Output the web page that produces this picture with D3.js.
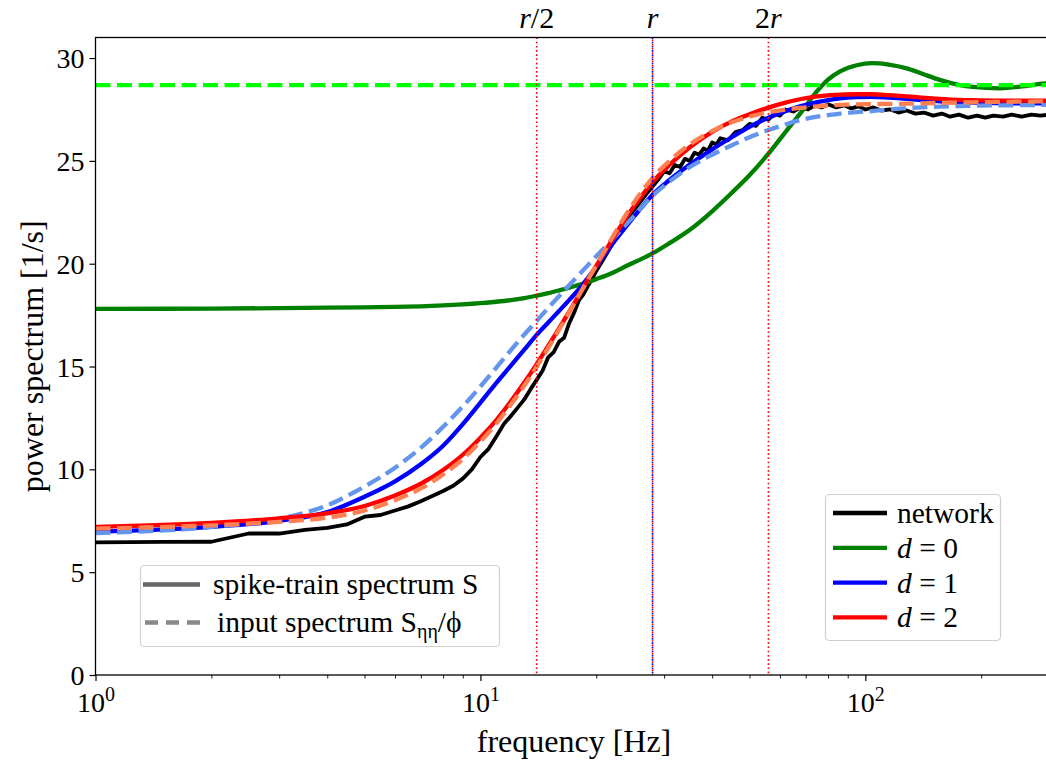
<!DOCTYPE html>
<html>
<head>
<meta charset="utf-8">
<script src="https://cdn.jsdelivr.net/npm/d3@7"></script>
<style>
  html, body { margin: 0; padding: 0; background: #fff; }
  svg { display: block; }
  text { font-family: "Liberation Serif", "DejaVu Serif", serif; fill: #000; }
</style>
</head>
<body>
<svg id="chart" width="1046" height="763"></svg>
<script>
// ---- data: frequencies [Hz] and power spectra [1/s] ----
const networkFreq = [1, 1.5, 2, 2.5, 3, 3.5, 4, 4.5, 5, 5.5, 6, 6.5, 7, 7.5, 8, 8.5, 9, 9.5, 10, 10.5, 11, 11.5, 12, 12.5, 13, 13.5, 14, 14.5, 15, 15.5, 16, 16.5, 17, 17.5, 18, 18.5, 19, 19.5, 20, 21, 22, 23, 24, 25, 26, 27, 28, 29, 30, 31, 32, 33, 34, 35, 36, 37, 38, 39, 40, 41, 42, 44, 46, 48, 50, 52, 54, 56, 58, 60, 62, 65, 68, 71, 74, 77, 80, 84, 88, 92, 96, 100, 105, 110, 116, 122, 128, 135, 142, 150, 158, 166, 175, 185, 195, 205, 215, 228, 240, 255, 270, 285, 300];
const networkPower = [6.45, 6.47, 6.48, 6.88, 6.88, 7.06, 7.15, 7.32, 7.7, 7.78, 8.0, 8.2, 8.45, 8.7, 8.95, 9.2, 9.55, 10.0, 10.6, 11.0, 11.6, 12.2, 12.6, 13.0, 13.4, 13.9, 14.35, 14.8, 15.45, 15.7, 16.2, 16.4, 17.1, 17.6, 18.2, 18.5, 18.9, 19.25, 19.65, 20.3, 20.95, 21.55, 22.1, 22.6, 23.0, 23.4, 23.75, 24.1, 24.5, 24.4, 24.8, 24.7, 25.1, 25.0, 25.4, 25.3, 25.6, 25.5, 25.9, 25.8, 26.1, 26.0, 26.4, 26.5, 26.8, 26.7, 27.1, 27.0, 27.3, 27.2, 27.5, 27.4, 27.6, 27.5, 27.7, 27.6, 27.75, 27.6, 27.7, 27.55, 27.65, 27.5, 27.6, 27.45, 27.5, 27.35, 27.45, 27.3, 27.35, 27.2, 27.3, 27.15, 27.25, 27.1, 27.2, 27.1, 27.2, 27.15, 27.25, 27.15, 27.25, 27.2, 27.25];

const modelFreq = [1, 2, 3, 4, 5, 6, 7, 8, 9, 10, 11, 12, 13, 14, 15, 16, 17, 18, 19, 20, 22, 24, 26, 28, 31, 35, 40, 45, 50, 56, 62, 68, 75, 80, 86, 95, 104, 115, 128, 140, 156, 175, 190, 224, 255, 284, 300];

// spike-train spectra S for d = 0, 1, 2
const sD0 = [17.8, 17.82, 17.84, 17.86, 17.88, 17.9, 17.93, 17.97, 18.02, 18.08, 18.15, 18.23, 18.33, 18.45, 18.57, 18.7, 18.83, 18.97, 19.1, 19.25, 19.55, 19.9, 20.2, 20.5, 21.0, 21.65, 22.55, 23.45, 24.3, 25.35, 26.4, 27.35, 28.4, 28.95, 29.35, 29.65, 29.75, 29.68, 29.5, 29.25, 28.94, 28.7, 28.6, 28.53, 28.62, 28.74, 28.78];
const sD1 = [6.97, 7.2, 7.5, 7.92, 8.67, 9.42, 10.25, 11.15, 12.2, 13.25, 14.2, 15.05, 15.82, 16.54, 17.14, 17.7, 18.23, 18.75, 19.3, 19.85, 20.95, 21.85, 22.65, 23.35, 24.07, 24.82, 25.56, 26.15, 26.65, 27.1, 27.42, 27.66, 27.86, 27.96, 28.04, 28.1, 28.12, 28.08, 28.02, 27.96, 27.89, 27.85, 27.83, 27.81, 27.8, 27.8, 27.8];
const sD2 = [7.2, 7.4, 7.62, 7.86, 8.22, 8.73, 9.3, 9.97, 10.71, 11.54, 12.4, 13.31, 14.22, 15.12, 16.0, 16.85, 17.66, 18.45, 19.21, 19.9, 21.17, 22.29, 23.2, 23.97, 24.81, 25.66, 26.41, 26.92, 27.27, 27.59, 27.83, 28.01, 28.14, 28.19, 28.22, 28.24, 28.24, 28.2, 28.14, 28.08, 28.02, 27.97, 27.95, 27.93, 27.93, 27.93, 27.93];

// input spectra S_eta/phi for d = 1, 2 (d = 0 is flat)
const inD1 = [6.9, 7.2, 7.6, 8.25, 9.17, 10.08, 11.05, 12.07, 13.06, 14.03, 14.95, 15.8, 16.55, 17.22, 17.85, 18.42, 18.95, 19.45, 19.92, 20.36, 21.18, 21.95, 22.65, 23.3, 24.0, 24.7, 25.3, 25.76, 26.15, 26.5, 26.77, 26.99, 27.15, 27.22, 27.3, 27.37, 27.42, 27.5, 27.57, 27.6, 27.64, 27.67, 27.68, 27.7, 27.71, 27.72, 27.72];
const inD2 = [7.12, 7.28, 7.45, 7.65, 8.0, 8.5, 9.07, 9.75, 10.5, 11.35, 12.23, 13.15, 14.07, 14.99, 15.9, 16.78, 17.62, 18.43, 19.21, 19.93, 21.27, 22.45, 23.4, 24.17, 25.0, 25.8, 26.45, 26.88, 27.15, 27.37, 27.5, 27.58, 27.65, 27.7, 27.72, 27.75, 27.76, 27.77, 27.78, 27.8, 27.82, 27.84, 27.85, 27.87, 27.88, 27.89, 27.9];
const inD0Level = 28.68;

// characteristic frequencies, r in Hz
const rate = 28;
const markerLabels = ["r/2", "r", "2r"];
const markerFactors = [0.5, 1, 2];

const yTicks = [0, 5, 10, 15, 20, 25, 30];
const xMajorTicks = [1, 10, 100];
const xMinorTicks = [2, 3, 4, 5, 6, 7, 8, 9, 20, 30, 40, 50, 60, 70, 80, 90, 200, 300];

const legendModels = [
  { label: "network", d: null, color: "#000000" },
  { label: "0", d: 0, color: "#008000" },
  { label: "1", d: 1, color: "#0000ff" },
  { label: "2", d: 2, color: "#ff0000" }
];

// ---- layout ----
const svg = d3.select("#chart");
const plotL = 95.5, plotT = 37.5, plotB = 675, plotR = 1049;
const x = d3.scaleLog().domain([1, 300]).range([plotL, plotR]);
const y = d3.scaleLinear().domain([0, 31]).range([plotB, plotT]);

const FS_TICK = 28, FS_LEG = 29.5, FS_LAB = 32, FS_TOP = 30;

svg.append("defs").append("clipPath").attr("id", "plotclip")
  .append("rect").attr("x", plotL).attr("y", plotT)
  .attr("width", plotR - plotL).attr("height", plotB - plotT);

const plot = svg.append("g").attr("clip-path", "url(#plotclip)");

const zip = (fs, vs) => fs.map((f, i) => [f, vs[i]]);
const smooth = d3.line().x(d => x(d[0])).y(d => y(d[1])).curve(d3.curveMonotoneX);
const straight = d3.line().x(d => x(d[0])).y(d => y(d[1]));

const LW = 4.3;
const DASH = "15,6.5";

function path(data, gen, color, width, dash) {
  const p = plot.append("path").attr("d", gen(data))
    .attr("fill", "none").attr("stroke", color).attr("stroke-width", width)
    .attr("stroke-linejoin", "round");
  if (dash) p.attr("stroke-dasharray", dash);
  return p;
}

// network simulation
path(zip(networkFreq, networkPower), straight, "#000000", 3.8);
// d = 0
path(zip(modelFreq, sD0), smooth, "#008000", LW);
path([[1, inD0Level], [300, inD0Level]], straight, "#00ff00", LW, DASH);
// d = 1
path(zip(modelFreq, sD1), smooth, "#0000ff", LW);
path(zip(modelFreq, inD1), smooth, "#6495ed", LW, DASH);
// d = 2
path(zip(modelFreq, sD2), smooth, "#ff0000", LW);
path(zip(modelFreq, inD2), smooth, "#ff7f50", LW, DASH);

// characteristic frequency markers
markerFactors.forEach((k, i) => {
  const fx = x(rate * k);
  if (k === 1) {
    plot.append("line").attr("x1", fx).attr("x2", fx).attr("y1", plotT).attr("y2", plotB)
      .attr("stroke", "#0000ff").attr("stroke-width", 1.6).attr("stroke-dasharray", "1.6,2.6");
    plot.append("line").attr("x1", fx).attr("x2", fx).attr("y1", plotT).attr("y2", plotB)
      .attr("stroke", "#ff0000").attr("stroke-width", 1.6).attr("stroke-dasharray", "1.6,2.6")
      .attr("stroke-dashoffset", 2.1);
  } else {
    plot.append("line").attr("x1", fx).attr("x2", fx).attr("y1", plotT).attr("y2", plotB)
      .attr("stroke", "#ff0000").attr("stroke-width", 1.6).attr("stroke-dasharray", "1.6,2.6");
  }
  const t = svg.append("text").attr("x", fx).attr("y", 28).attr("text-anchor", "middle")
    .attr("font-size", FS_TOP);
  const lab = markerLabels[i];
  if (lab === "r/2") {
    t.append("tspan").attr("font-style", "italic").text("r");
    t.append("tspan").text("/2");
  } else if (lab === "2r") {
    t.append("tspan").text("2");
    t.append("tspan").attr("font-style", "italic").text("r");
  } else {
    t.append("tspan").attr("font-style", "italic").text("r");
  }
});

// ---- frame ----
svg.append("rect").attr("x", plotL).attr("y", plotT).attr("width", plotR - plotL).attr("height", plotB - plotT)
  .attr("fill", "none").attr("stroke", "#000").attr("stroke-width", 1.3);

// ---- axes ----
const yAxis = svg.append("g").attr("transform", `translate(${plotL},0)`)
  .call(d3.axisLeft(y).tickValues(yTicks).tickSize(6).tickPadding(5).tickFormat(d3.format("d")));
yAxis.select(".domain").remove();
yAxis.selectAll("line").attr("stroke", "#000").attr("stroke-width", 1.2);
yAxis.selectAll("text").attr("font-size", FS_TICK).attr("font-family", "Liberation Serif, serif")
  .attr("dy", "0.34em");

const xAxis = svg.append("g").attr("transform", `translate(0,${plotB})`)
  .call(d3.axisBottom(x).tickValues(xMajorTicks).tickSize(6).tickFormat(""));
xAxis.select(".domain").remove();
xAxis.selectAll("line").attr("stroke", "#000").attr("stroke-width", 1.2);
xAxis.selectAll(".tick").each(function(d) {
  const t = d3.select(this).append("text").attr("y", 37).attr("text-anchor", "middle")
    .attr("font-size", FS_TICK).attr("font-family", "Liberation Serif, serif").attr("fill", "#000");
  t.append("tspan").text("10");
  t.append("tspan").attr("font-size", 20).attr("dy", -11).text(Math.round(Math.log10(d)));
});
const xMinor = svg.append("g").attr("transform", `translate(0,${plotB})`)
  .call(d3.axisBottom(x).tickValues(xMinorTicks).tickSize(3.5).tickFormat(""));
xMinor.select(".domain").remove();
xMinor.selectAll("line").attr("stroke", "#000").attr("stroke-width", 0.9);

svg.append("text").attr("x", 574).attr("y", 752).attr("text-anchor", "middle")
  .attr("font-size", FS_LAB).text("frequency [Hz]");
svg.append("text").attr("transform", `translate(43,${(plotT + plotB) / 2}) rotate(-90)`)
  .attr("text-anchor", "middle").attr("font-size", FS_LAB).text("power spectrum [1/s]");

// ---- legend: models ----
const lg = svg.append("g");
lg.append("rect").attr("x", 825.5).attr("y", 494.5).attr("width", 175).attr("height", 146).attr("rx", 4)
  .attr("fill", "#fff").attr("fill-opacity", 0.8).attr("stroke", "#d0d0d0").attr("stroke-width", 1.2);
legendModels.forEach((m, i) => {
  const cy = 513 + i * 34.8;
  lg.append("line").attr("x1", 833).attr("x2", 887).attr("y1", cy).attr("y2", cy)
    .attr("stroke", m.color).attr("stroke-width", LW);
  const t = lg.append("text").attr("x", 897).attr("y", cy + 10).attr("font-size", FS_LEG);
  if (m.d === null) {
    t.text(m.label);
  } else {
    t.append("tspan").attr("font-style", "italic").text("d");
    t.append("tspan").text(" = " + m.label);
  }
});

// ---- legend: line styles ----
const ls = svg.append("g");
ls.append("rect").attr("x", 140.5).attr("y", 565.5).attr("width", 359).attr("height", 81).attr("rx", 4)
  .attr("fill", "#fff").attr("fill-opacity", 0.8).attr("stroke", "#d0d0d0").attr("stroke-width", 1.2);
ls.append("line").attr("x1", 143).attr("x2", 200).attr("y1", 584.5).attr("y2", 584.5)
  .attr("stroke", "#666666").attr("stroke-width", LW);
ls.append("text").attr("x", 213).attr("y", 594).attr("font-size", FS_LEG).text("spike-train spectrum S");
ls.append("line").attr("x1", 145).attr("x2", 200).attr("y1", 622.5).attr("y2", 622.5)
  .attr("stroke", "#888888").attr("stroke-width", LW).attr("stroke-dasharray", "13,8");
const t2 = ls.append("text").attr("x", 217).attr("y", 632).attr("font-size", FS_LEG);
t2.append("tspan").text("input spectrum S");
t2.append("tspan").attr("font-size", 20).attr("dy", 6).text("ηη");
t2.append("tspan").attr("dy", -6).text("/ϕ");
</script>
</body>
</html>
